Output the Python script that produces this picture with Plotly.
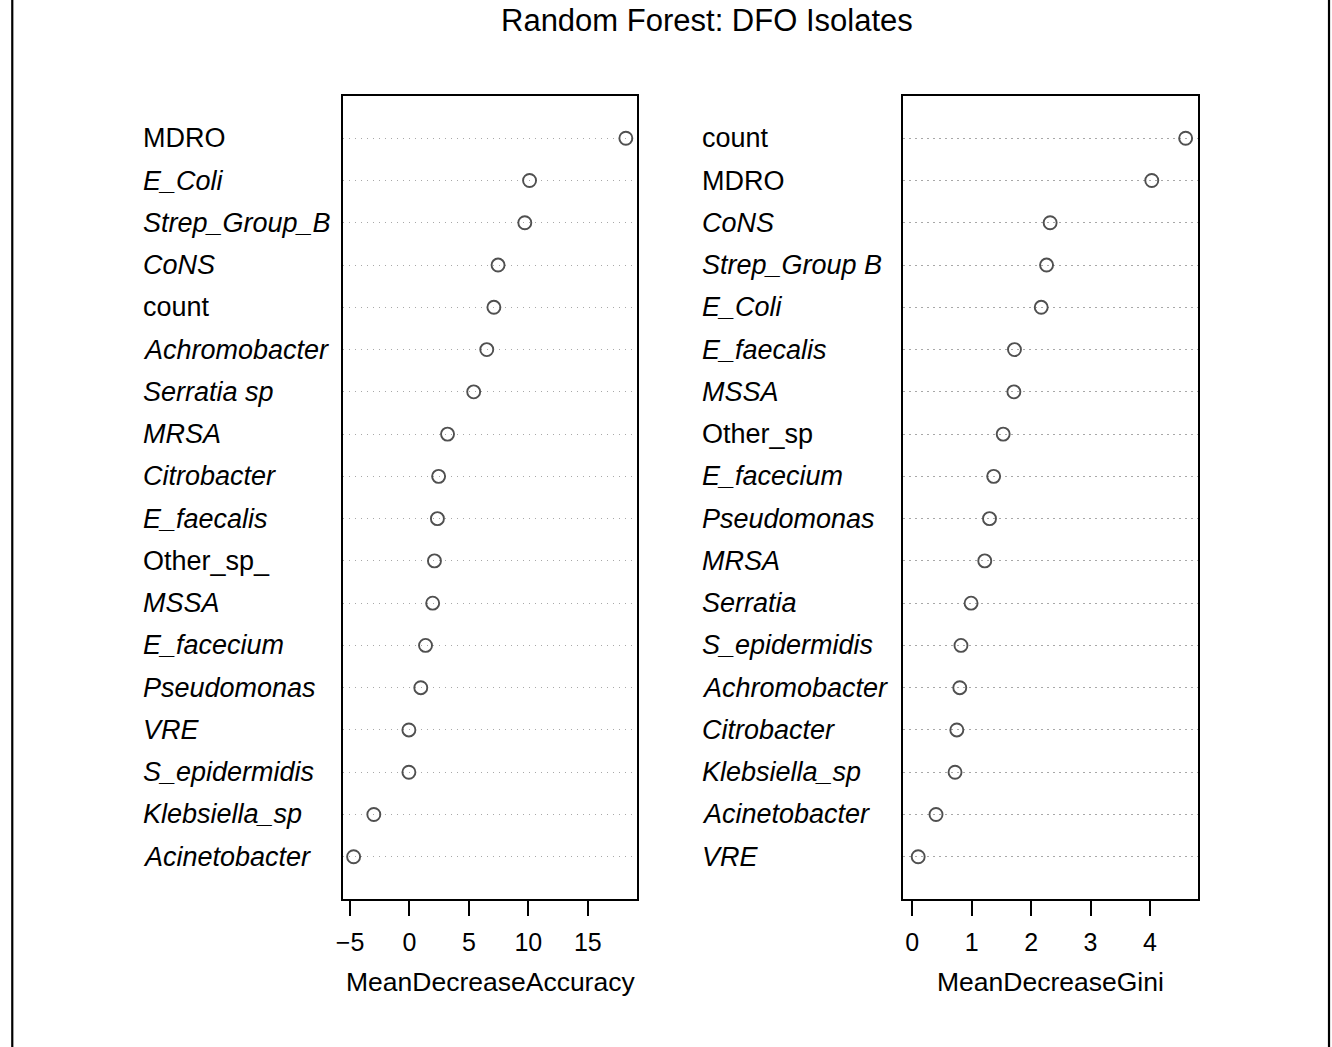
import plotly.graph_objects as go

title = "Random Forest: DFO Isolates"

acc_labels = ["MDRO", "E_Coli", "Strep_Group_B", "CoNS", "count", "Achromobacter",
              "Serratia sp", "MRSA", "Citrobacter", "E_faecalis", "Other_sp_", "MSSA",
              "E_facecium", "Pseudomonas", "VRE", "S_epidermidis", "Klebsiella_sp",
              "Acinetobacter"]
acc_values = [18.2, 10.1, 9.7, 7.45, 7.1, 6.5, 5.4, 3.2, 2.45, 2.35, 2.1, 1.95,
              1.35, 0.95, -0.05, -0.05, -3.0, -4.7]
acc_italic = [False, True, True, True, False, True, True, True, True, True, False,
              True, True, True, True, True, True, True]

gini_labels = ["count", "MDRO", "CoNS", "Strep_Group B", "E_Coli", "E_faecalis", "MSSA",
               "Other_sp", "E_facecium", "Pseudomonas", "MRSA", "Serratia",
               "S_epidermidis", "Achromobacter", "Citrobacter", "Klebsiella_sp",
               "Acinetobacter", "VRE"]
gini_values = [4.6, 4.03, 2.32, 2.26, 2.17, 1.72, 1.71, 1.53, 1.37, 1.30, 1.22, 0.99,
               0.82, 0.80, 0.75, 0.72, 0.40, 0.10]
gini_italic = [False, False, True, True, True, True, True, False, True, True, True,
               True, True, True, True, True, True, True]

acc_ticks = [-5, 0, 5, 10, 15]
gini_ticks = [0, 1, 2, 3, 4]

W, H = 1332, 1047
FONT = "Liberation Sans, Arial, sans-serif"
n = len(acc_labels)
ypos = [n - i for i in range(n)]

fig = go.Figure()
for xs, xa, ya in [(acc_values, "x", "y"), (gini_values, "x2", "y2")]:
    fig.add_trace(go.Scatter(x=xs, y=ypos, mode="markers", xaxis=xa, yaxis=ya,
                             marker=dict(symbol="circle-open", size=13, color="#505050",
                                         line=dict(width=1.9, color="#505050")),
                             showlegend=False, hoverinfo="x"))

def fmt(v):
    return ("\u2212" + str(abs(v))) if v < 0 else str(v)

xcommon = dict(showline=True, linecolor="black", linewidth=1.5, mirror=True,
               ticks="outside", ticklen=15, tickwidth=1.5, tickcolor="black",
               ticklabelstandoff=5,
               showgrid=False, zeroline=False,
               tickfont=dict(family=FONT, size=25, color="black"))
ycommon = dict(showline=True, linecolor="black", linewidth=1.5, mirror=True,
               range=[0, n + 1], tickvals=ypos, showticklabels=False, ticks="",
               showgrid=True, gridcolor="#a8a8a8", griddash="1.3px,4.7px", gridwidth=1.3,
               zeroline=False, domain=[1 - 899 / H, 1 - 96 / H])

fig.update_layout(
    width=W, height=H, margin=dict(l=0, r=0, t=0, b=0),
    paper_bgcolor="white", plot_bgcolor="white",
    xaxis=dict(domain=[337.5 / W, 633 / W], range=[-5.616, 19.11], anchor="y",
               tickvals=acc_ticks, ticktext=[fmt(v) for v in acc_ticks], **xcommon),
    yaxis=dict(anchor="x", **ycommon),
    xaxis2=dict(domain=[901 / W, 1197 / W], range=[-0.151, 4.803], anchor="y2",
                tickvals=gini_ticks, ticktext=[fmt(v) for v in gini_ticks], **xcommon),
    yaxis2=dict(anchor="x2", **ycommon),
    showlegend=False,
)

ann = []
for lab, it, y in zip(acc_labels, acc_italic, ypos):
    ann.append(dict(x=135 / W, xref="paper", y=y, yref="y", xanchor="left", yanchor="middle",
                    text=f"<i>{lab}</i>" if it else lab, showarrow=False,
                    font=dict(family=FONT, size=27, color="black")))
for lab, it, y in zip(gini_labels, gini_italic, ypos):
    ann.append(dict(x=697 / W, xref="paper", y=y, yref="y2", xanchor="left", yanchor="middle",
                    text=f"<i>{lab}</i>" if it else lab, showarrow=False,
                    font=dict(family=FONT, size=27, color="black")))
ann.append(dict(x=486 / W, y=1 - 982 / H, xref="paper", yref="paper", text="MeanDecreaseAccuracy",
                showarrow=False, xanchor="center", yanchor="middle",
                font=dict(family=FONT, size=26.5, color="black")))
ann.append(dict(x=1049 / W, y=1 - 982 / H, xref="paper", yref="paper", text="MeanDecreaseGini",
                showarrow=False, xanchor="center", yanchor="middle",
                font=dict(family=FONT, size=26.5, color="black")))
ann.append(dict(x=704 / W, y=1 - 20 / H, xref="paper", yref="paper", text=title,
                showarrow=False, xanchor="center", yanchor="middle",
                font=dict(family=FONT, size=31, color="black")))
fig.update_layout(annotations=ann)

fig.add_shape(type="rect", xref="paper", yref="paper", x0=5.3 / W, x1=1329 / W,
              y0=-0.02, y1=1.02, line=dict(color="black", width=2.2), layer="above")

fig.write_html("out.html", config={"displayModeBar": False},
               post_script="document.body.style.margin='0px';document.body.style.overflow='hidden';")
